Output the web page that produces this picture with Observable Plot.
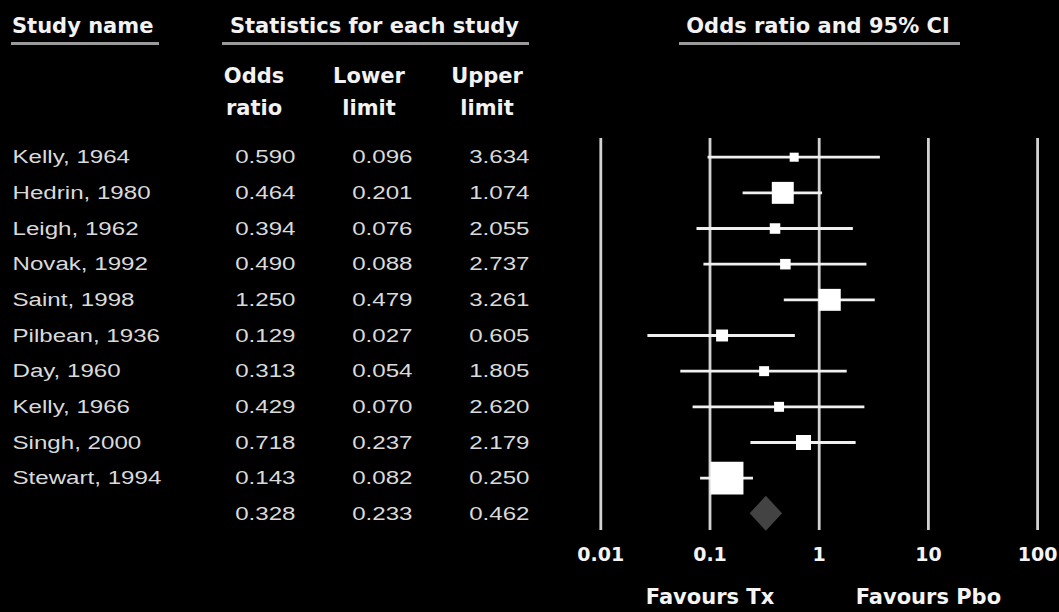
<!DOCTYPE html>
<html><head><meta charset="utf-8">
<script src="https://cdn.jsdelivr.net/npm/d3@7"></script>
<script src="https://cdn.jsdelivr.net/npm/@observablehq/plot@0.6"></script>
<style>
html,body{margin:0;padding:0;background:#000;}
#chart{position:relative;width:1059px;height:612px;background:#000;overflow:hidden;}
#chart > svg{position:absolute;left:0;top:0;}
.hdr{position:absolute;font-family:"DejaVu Sans";font-weight:bold;font-size:21px;line-height:21px;color:#f2f2f2;white-space:nowrap;}
.ctr{width:400px;text-align:center;}
.uline{position:absolute;height:3px;background:#9a9a9a;}
</style></head><body>
<div id="chart"></div>
<script>
// ---- data ----
const studies = ["Kelly, 1964","Hedrin, 1980","Leigh, 1962","Novak, 1992","Saint, 1998","Pilbean, 1936","Day, 1960","Kelly, 1966","Singh, 2000","Stewart, 1994"];
const oddsRatio  = [0.590, 0.464, 0.394, 0.490, 1.250, 0.129, 0.313, 0.429, 0.718, 0.143];
const lowerLimit = [0.096, 0.201, 0.076, 0.088, 0.479, 0.027, 0.054, 0.070, 0.237, 0.082];
const upperLimit = [3.634, 1.074, 2.055, 2.737, 3.261, 0.605, 1.805, 2.620, 2.179, 0.250];
const relWeight  = [2.8, 16.5, 3.8, 3.8, 16.5, 4.9, 3.4, 3.4, 7.7, 37.2];
const summaryOR = 0.328, summaryLower = 0.233, summaryUpper = 0.462;
const tickValues = [0.01, 0.1, 1, 10, 100];
const tickLabels = ["0.01", "0.1", "1", "10", "100"];
const favoursLabels = ["Favours Tx", "Favours Pbo"];
const favoursAt = [0.1, 10];
const headerLabels = ["Study name", "Statistics for each study", "Odds ratio and 95% CI"];
const columnLabels = [["Odds", "ratio"], ["Lower", "limit"], ["Upper", "limit"]];
const numCols = ["or", "lower", "upper"];

// ---- layout ----
const rowTop = 156.7, rowBottom = 513.3;
const nRows = studies.length; // summary row index = nRows
const chart = document.getElementById("chart");

// headers (HTML above plot content)
function addDiv(cls, text, style) {
  const d = document.createElement("div");
  d.className = cls; d.textContent = text;
  Object.assign(d.style, style); chart.appendChild(d); return d;
}
addDiv("hdr", headerLabels[0], {left: "12px", top: "16px"});
addDiv("hdr ctr", headerLabels[1], {left: (374.5 - 200) + "px", top: "16px"});
addDiv("hdr ctr", headerLabels[2], {left: (818 - 200) + "px", top: "16px"});
addDiv("uline", "", {left: "11px", width: "148px", top: "42px"});
addDiv("uline", "", {left: "222px", width: "307px", top: "42px"});
addDiv("uline", "", {left: "679px", width: "281px", top: "42px"});
const colCenters = [254, 369, 487];
columnLabels.forEach((lines, j) => {
  addDiv("hdr ctr", lines[0], {left: (colCenters[j] - 200) + "px", top: "66px"});
  addDiv("hdr ctr", lines[1], {left: (colCenters[j] - 200) + "px", top: "98px"});
});

// ---- table ----
const fmt = d3.format(".3f");
const nameCells = studies.map((s, i) => ({row: i, text: s}));
const numCells = [];
studies.forEach((s, i) => {
  numCells.push({col: "or", row: i, text: fmt(oddsRatio[i])});
  numCells.push({col: "lower", row: i, text: fmt(lowerLimit[i])});
  numCells.push({col: "upper", row: i, text: fmt(upperLimit[i])});
});
numCells.push({col: "or", row: nRows, text: fmt(summaryOR)});
numCells.push({col: "lower", row: nRows, text: fmt(summaryLower)});
numCells.push({col: "upper", row: nRows, text: fmt(summaryUpper)});

const table = Plot.plot({
  width: 560, height: 612, margin: 0,
  style: {background: "transparent", color: "#dadada", fontFamily: "Liberation Sans, Arial, sans-serif", fontSize: "19px"},
  x: {type: "point", domain: numCols, range: [294.4, 528.6], padding: 0, axis: null},
  y: {domain: [0, nRows], range: [rowTop, rowBottom], axis: null},
  marks: [
    Plot.text(nameCells, {y: "row", text: "text", frameAnchor: "left", dx: 12, textAnchor: "start", fill: "currentColor", lineAnchor: "middle"}),
    Plot.text(numCells, {x: "col", y: "row", text: "text", textAnchor: "end", fill: "currentColor", lineAnchor: "middle"})
  ]
});
function stretch(svg, s) {
  svg.querySelectorAll("text").forEach(t => {
    const tr = t.getAttribute("transform");
    const x = +t.getAttribute("x") || 0, y = +t.getAttribute("y") || 0;
    const extra = (x || y) ? `translate(${x},${y}) scale(${s},1) translate(${-x},${-y})` : `scale(${s},1)`;
    t.setAttribute("transform", (tr ? tr + " " : "") + extra);
  });
}
stretch(table, 1.27);
chart.appendChild(table);

// ---- forest ----
const rows = studies.map((name, i) => ({name, i, or: oddsRatio[i], lo: lowerLimit[i], hi: upperLimit[i], w: relWeight[i]}));
const diamondHalf = 0.49;
const diamond = [
  {x: summaryLower, y1: nRows, y2: nRows},
  {x: summaryOR, y1: nRows - diamondHalf, y2: nRows + diamondHalf},
  {x: summaryUpper, y1: nRows, y2: nRows}
];
const forest = Plot.plot({
  width: 1059, height: 612,
  marginLeft: 600.3, marginRight: 21.9, marginTop: 138, marginBottom: 82,
  style: {background: "transparent", color: "#f4f4f4", fontFamily: "DejaVu Sans", fontSize: "19px", fontWeight: "bold", overflow: "visible"},
  x: {type: "log", domain: [0.01, 100], ticks: tickValues, tickFormat: d => tickLabels[tickValues.indexOf(d)], tickSize: 0, tickPadding: 17, label: null},
  y: {domain: [0, nRows], range: [rowTop, rowBottom], axis: null},
  r: {domain: [0, d3.max(relWeight)], range: [0, 18.6]},
  marks: [
    Plot.ruleX(tickValues, {stroke: "#d2d2d2", strokeWidth: 2.8}),
    Plot.areaY(diamond, {x: "x", y1: "y1", y2: "y2", fill: "#434343", curve: "linear"}),
    Plot.ruleY(rows, {x1: "lo", x2: "hi", y: "i", stroke: "#f0f0f0", strokeWidth: 2.8}),
    Plot.dot(rows, {x: "or", y: "i", r: "w", symbol: "square", fill: "#ffffff"}),
    Plot.text(favoursLabels, {x: (d, i) => favoursAt[i], text: d => d, frameAnchor: "bottom", lineAnchor: "top", dy: 59, fontSize: 21, fill: "currentColor"})
  ]
});
chart.appendChild(forest);
</script>
</body></html>
